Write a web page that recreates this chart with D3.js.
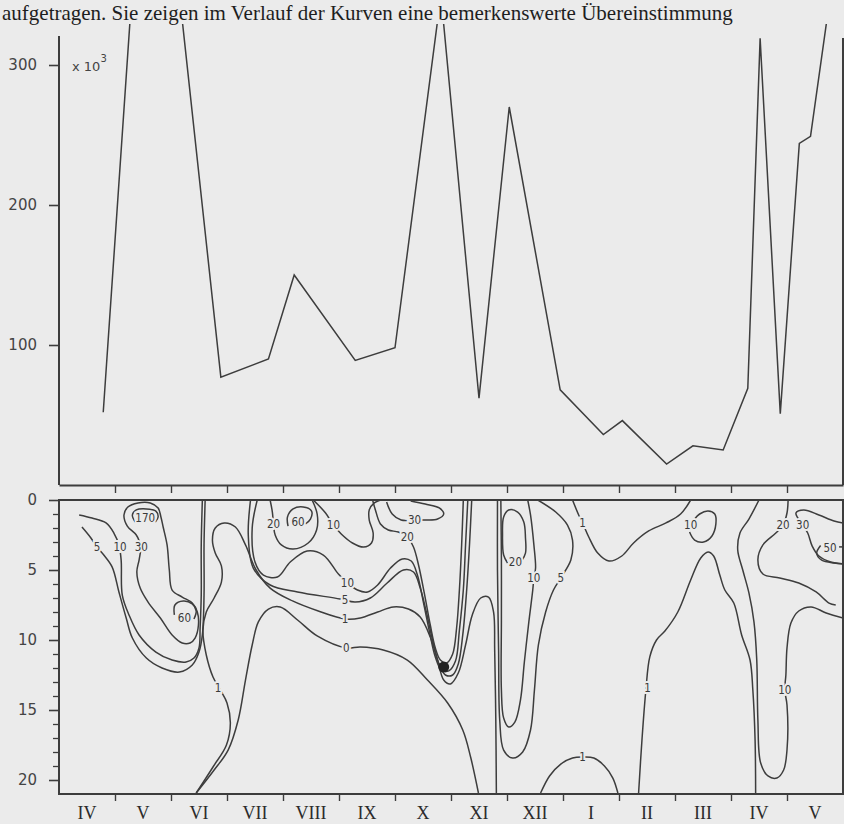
<!DOCTYPE html>
<html><head><meta charset="utf-8">
<script src="https://cdn.jsdelivr.net/npm/d3@7"></script>
<style>
html,body{margin:0;padding:0;background:#ebebeb;}
svg{display:block;}
</style></head><body>
<svg id="chart" width="844" height="824"></svg>
<script>
// ---------- DATA ----------
const headerText = "aufgetragen. Sie zeigen im Verlauf der Kurven eine bemerkenswerte Übereinstimmung";
// sampling dates as month index (0 = start of April 1996) and abundance (x10^3)
const sampleMonth = [0.79,1.63,2.89,3.74,4.20,5.29,6.00,6.82,7.50,8.04,8.95,9.72,10.06,10.85,11.32,11.86,12.30,12.52,12.88,13.22,13.42,13.95];
const abundance   = [52,543,77,90,150,89,98,350,62,270,68,36,46,15,28,25,69,319,51,244,249,400];
const topTicks = [100,200,300];
const monthLabels = ["IV","V","VI","VII","VIII","IX","X","XI","XII","I","II","III","IV","V"];
const depthMajor = [0,5,10,15,20];
const depthMinor = d3.range(1,21).filter(d=>d%5!==0);

// isolines: [month, depth]
const iso5_spring = [[0.41,1.93],[0.57,2.71],[0.68,3.36],[0.80,3.93],[0.95,4.79],[1.07,6.57],[1.20,8.43],[1.31,9.86],[1.56,11.29],[1.84,12.0],[2.15,12.29],[2.38,11.79],[2.50,10.86],[2.56,9.64],[2.59,6.79],[2.59,3.21],[2.61,0]];
const iso10_spring = [[0.36,1.07],[0.59,1.29],[0.84,1.64],[0.98,2.36],[1.07,3.21],[1.11,4.29],[1.13,6.79],[1.25,8.21],[1.43,9.64],[1.73,10.86],[2.02,11.43],[2.27,11.57],[2.41,11.29],[2.50,10.57],[2.52,9.14],[2.54,6.79],[2.54,3.21],[2.56,0]];
const iso30_spring = [[1.47,3.36],[1.38,2.5],[1.22,1.86],[1.16,1.07],[1.23,0.5],[1.41,0.21],[1.63,0.21],[1.77,0.57],[1.82,1.21],[1.86,1.93],[1.93,3.21],[1.97,5.0],[2.02,6.43],[2.20,6.93],[2.38,7.36],[2.47,8.0],[2.49,8.93],[2.43,9.86],[2.34,10.21],[2.20,10.21],[2.02,9.64],[1.81,8.43],[1.59,7.29],[1.45,6.29],[1.39,5.14],[1.43,4.29],[1.47,3.36]];
const iso170_spring = [[1.36,1.57],[1.31,1.07],[1.38,0.71],[1.56,0.64],[1.73,0.79],[1.77,1.21],[1.72,1.57]];
const iso60_spring = [[2.06,8.21],[2.07,7.5],[2.22,7.21],[2.38,7.43],[2.45,7.93],[2.41,8.5]];
const iso1_summer = [[2.45,20.93],[2.75,19.07],[2.99,17.5],[3.06,15.93],[3.00,14.5],[2.88,13.57],[2.75,12.64],[2.63,11.07],[2.57,9.29],[2.63,8.0],[2.77,7.0],[2.90,5.86],[2.90,4.71],[2.79,3.79],[2.74,2.86],[2.79,2.0],[2.95,1.64],[3.15,1.93],[3.33,3.21],[3.52,5.0],[3.77,6.29],[4.17,7.21],[4.63,7.93],[5.11,8.5],[5.38,8.43],[5.69,8.0],[5.97,7.64],[6.24,7.79],[6.45,8.36],[6.63,9.79],[6.76,11.43],[6.87,12.86],[6.99,13.14],[7.13,12.36],[7.26,10.36],[7.38,8.21],[7.53,7.0],[7.67,6.93],[7.76,8.0],[7.78,10.71],[7.80,15.71],[7.81,20.93]];
const iso5_summer = [[3.42,0],[3.38,2.5],[3.47,4.86],[3.77,6.07],[4.26,6.57],[5.02,7.07],[5.29,7.29],[5.56,7.0],[5.86,5.93],[6.15,5.0],[6.33,5.14],[6.45,6.29],[6.56,8.0],[6.67,10.0],[6.78,11.64],[6.90,12.5],[7.03,12.5],[7.13,11.71],[7.21,9.64],[7.28,6.43],[7.33,3.21],[7.37,0]];
const iso10_summer = [[3.54,0],[3.45,2.0],[3.50,4.43],[3.65,5.36],[3.90,5.5],[4.13,4.43],[4.43,3.64],[4.72,3.93],[4.99,5.29],[5.15,5.93],[5.33,6.43],[5.51,6.57],[5.69,6.07],[5.92,4.86],[6.13,4.21],[6.29,4.36],[6.40,5.36],[6.51,7.36],[6.62,9.5],[6.72,11.21],[6.83,12.14],[6.96,12.21],[7.08,11.5],[7.15,9.29],[7.22,6.43],[7.26,3.21],[7.30,0]];
const iso20_july = [[3.77,0],[3.81,0.86],[3.83,1.71],[3.86,2.5],[3.97,3.21],[4.18,3.5],[4.45,3.07],[4.60,2.14],[4.61,1.0],[4.52,0]];
const iso60_july = [[4.09,1.86],[4.08,1.21],[4.18,0.64],[4.36,0.5],[4.51,0.79],[4.49,1.36],[4.40,1.71]];
const iso10_aug = [[4.54,0],[4.76,0.93],[4.90,1.79],[5.04,2.43],[5.24,3.07],[5.44,3.36],[5.58,3.07],[5.61,2.36],[5.54,1.43],[5.54,0.71],[5.63,0.21],[5.74,0]];
const iso20_oct = [[5.60,0],[5.65,0.71],[5.74,1.71],[5.88,2.14],[6.06,2.29],[6.22,2.64],[6.33,3.36],[6.42,4.64],[6.53,6.79],[6.63,8.93],[6.72,10.57],[6.81,11.43],[6.92,11.64],[7.03,11.0],[7.10,9.14],[7.15,6.43],[7.19,3.21],[7.22,0]];
const iso30_oct = [[5.85,0.14],[5.95,1.0],[6.11,1.43],[6.35,1.43],[6.56,1.43],[6.76,1.36],[6.87,1.0],[6.79,0.57],[6.54,0.29],[6.28,0.07]];
const iso0 = [[2.45,20.93],[2.77,19.29],[3.02,17.86],[3.20,15.71],[3.33,12.86],[3.45,10.36],[3.56,8.71],[3.74,7.79],[3.95,7.64],[4.26,8.57],[4.61,9.71],[5.13,10.57],[5.38,10.5],[5.79,10.71],[6.22,11.43],[6.58,12.86],[6.94,14.5],[7.21,16.43],[7.35,18.36],[7.49,20.93]];
const iso5_winter = [[8.55,0],[8.87,0.86],[9.08,1.79],[9.17,2.86],[9.14,4.29],[8.96,5.57],[8.83,6.43],[8.69,8.0],[8.56,10.36],[8.49,13.57],[8.42,16.43],[8.28,18.0],[8.10,18.43],[7.94,17.86],[7.87,15.71],[7.85,10.71],[7.83,5.0],[7.83,0]];
const iso10_winter = [[8.37,0],[8.42,1.07],[8.48,3.21],[8.51,4.86],[8.48,5.57],[8.46,6.43],[8.39,8.71],[8.31,11.57],[8.24,14.29],[8.14,15.86],[8.03,16.21],[7.94,15.57],[7.90,13.57],[7.90,8.57],[7.90,4.29],[7.89,0]];
const iso20_nov = [[8.01,4.5],[7.94,3.93],[7.92,2.5],[7.94,1.21],[8.03,0.71],[8.19,0.86],[8.30,1.57],[8.33,2.71],[8.33,3.79],[8.26,4.36]];
const iso1_dec = [[9.17,0],[9.28,1.07],[9.35,1.64],[9.46,2.64],[9.62,3.79],[9.82,4.36],[10.05,4.0],[10.26,3.07],[10.53,2.21],[10.84,1.64],[11.10,1.0],[11.28,0]];
const iso10_mar = [[11.26,2.29],[11.35,2.86],[11.51,3.0],[11.66,2.57],[11.73,1.71],[11.71,1.0],[11.59,0.79],[11.44,1.0],[11.35,1.36]];
const iso1_spring97 = [[10.35,20.93],[10.41,17.14],[10.48,13.57],[10.55,11.21],[10.67,10.0],[10.82,9.36],[11.05,8.0],[11.28,5.71],[11.46,4.14],[11.59,3.71],[11.69,4.0],[11.80,5.36],[11.89,6.43],[12.05,7.36],[12.19,9.64],[12.34,11.43],[12.39,13.57],[12.43,17.14],[12.44,20.93]];
const iso1_jan = [[8.60,20.93],[8.76,19.71],[8.96,18.86],[9.17,18.43],[9.35,18.36],[9.55,18.43],[9.74,19.0],[9.89,19.86],[9.98,20.93]];
const iso10_apr = [[12.50,0],[12.32,1.36],[12.16,2.36],[12.12,3.57],[12.21,5.0],[12.32,6.64],[12.41,8.71],[12.46,11.43],[12.48,15.71],[12.53,18.79],[12.66,19.71],[12.82,19.86],[12.94,19.29],[13.0,17.86],[13.0,14.64],[12.96,13.57],[12.98,12.5],[13.0,10.57],[13.07,8.79],[13.21,7.93],[13.43,7.64],[13.70,8.07],[14.0,8.43]];
const iso20_apr = [[13.02,0],[13.0,0.93],[12.93,1.79],[12.80,2.36],[12.57,3.21],[12.48,4.29],[12.57,5.29],[12.87,5.57],[13.21,5.93],[13.52,6.57],[13.75,7.36],[13.87,7.5]];
const iso30_may = [[14.0,1.64],[13.84,1.5],[13.57,1.07],[13.30,0.71],[13.16,0.93],[13.28,1.79],[13.37,2.36],[13.45,3.29],[13.57,4.0],[13.78,4.43],[14.0,4.57]];
const iso50_may = [[13.60,3.25],[13.53,3.8],[13.62,4.3],[13.85,4.5],[14.0,4.55]];
const iso50_may_tail = [[13.93,3.35],[14.0,3.35]];

const isolines = [iso5_spring, iso10_spring, iso30_spring, iso170_spring, iso60_spring, iso1_summer, iso5_summer, iso10_summer,
  iso20_july, iso60_july, iso10_aug, iso20_oct, iso30_oct, iso0, iso5_winter, iso10_winter, iso20_nov, iso1_dec, iso10_mar,
  iso1_spring97, iso1_jan, iso10_apr, iso20_apr, iso30_may, iso50_may, iso50_may_tail];

const isoLabelText  = ["5","10","30","170","60","1","20","60","10","10","5","1","0","30","20","20","10","5","1","1","10","1","20","30","50","10"];
const isoLabelMonth = [0.68,1.09,1.47,1.54,2.24,2.84,3.83,4.27,4.90,5.15,5.11,5.11,5.13,6.35,6.22,8.15,8.48,8.96,9.35,9.35,11.28,10.51,12.93,13.28,13.77,12.96];
const isoLabelDepth = [3.36,3.36,3.36,1.29,8.43,13.43,1.71,1.57,1.79,5.93,7.14,8.5,10.57,1.43,2.64,4.43,5.57,5.57,1.64,18.36,1.79,13.43,1.79,1.79,3.43,13.57];
const deepDot = [6.87, 11.93];

// ---------- DRAW ----------
const bg = "#ebebeb", ink = "#3d3d3d";
const svg = d3.select("#chart");
const x = d3.scaleLinear().domain([0,14]).range([59,843]);
const yTop = d3.scaleLinear().domain([0,300]).range([485,65]);
const yDepth = d3.scaleLinear().domain([0,21]).range([500,794]);

svg.append("rect").attr("width",844).attr("height",824).attr("fill",bg);

// book text line above the figure
svg.append("text").attr("x",2).attr("y",20)
  .attr("font-family","Liberation Serif").attr("font-size",21).attr("fill","#1e1e1e")
  .text(headerText);

const defs = svg.append("defs");
defs.append("clipPath").attr("id","clipTop").append("rect").attr("x",59).attr("y",24).attr("width",784).attr("height",461);
defs.append("clipPath").attr("id","clipBot").append("rect").attr("x",59).attr("y",500).attr("width",784).attr("height",294);

// ---- top panel ----
const series = sampleMonth.map((m,i)=>[m, abundance[i]]);
svg.append("path").datum(series)
  .attr("clip-path","url(#clipTop)")
  .attr("fill","none").attr("stroke",ink).attr("stroke-width",1.5).attr("stroke-linejoin","miter")
  .attr("d", d3.line().x(d=>x(d[0])).y(d=>yTop(d[1])));

const axTop = svg.append("g").attr("transform","translate(59,0)")
  .call(d3.axisLeft(yTop).tickValues(topTicks).tickSize(10).tickPadding(12).tickSizeOuter(0));
axTop.select(".domain").remove();
axTop.selectAll(".tick line").attr("stroke",ink).attr("stroke-width",1.6);
axTop.selectAll(".tick text").attr("font-family","DejaVu Sans").attr("font-size",15).attr("fill","#444");

svg.append("line").attr("x1",59).attr("x2",59).attr("y1",36).attr("y2",485).attr("stroke",ink).attr("stroke-width",2);
svg.append("line").attr("x1",843).attr("x2",843).attr("y1",38).attr("y2",485).attr("stroke",ink).attr("stroke-width",2);

const unit = svg.append("text").attr("x",72).attr("y",71)
  .attr("font-family","DejaVu Sans").attr("font-size",13).attr("fill","#444");
unit.append("tspan").text("x 10");
unit.append("tspan").attr("dy",-9).attr("font-size",10).text("3");

const axMid = svg.append("g").attr("transform","translate(0,485)")
  .call(d3.axisBottom(x).tickValues(d3.range(1,14)).tickSize(8).tickSizeOuter(0).tickFormat(""));
axMid.select(".domain").attr("stroke",ink).attr("stroke-width",2);
axMid.selectAll(".tick line").attr("stroke",ink).attr("stroke-width",1.4);

// ---- bottom panel ----
const gBot = svg.append("g").attr("clip-path","url(#clipBot)");
const lineIso = d3.line().x(d=>x(d[0])).y(d=>yDepth(d[1])).curve(d3.curveCatmullRom.alpha(0.5));
gBot.selectAll("path.iso").data(isolines).join("path").attr("class","iso")
  .attr("fill","none").attr("stroke",ink).attr("stroke-width",1.5).attr("d",lineIso);

gBot.append("circle").attr("cx",x(deepDot[0])).attr("cy",yDepth(deepDot[1])).attr("r",5.5).attr("fill","#222");

svg.append("g").selectAll("text").data(isoLabelText).join("text")
  .attr("x",(d,i)=>x(isoLabelMonth[i])).attr("y",(d,i)=>yDepth(isoLabelDepth[i]))
  .attr("text-anchor","middle").attr("dominant-baseline","central")
  .attr("font-family","DejaVu Sans Condensed, DejaVu Sans").attr("font-size",11.5).attr("fill","#3a3a3a")
  .attr("stroke",bg).attr("stroke-width",4).attr("paint-order","stroke")
  .text(d=>d);

svg.append("rect").attr("x",59).attr("y",500).attr("width",784).attr("height",294)
  .attr("fill","none").attr("stroke",ink).attr("stroke-width",2);

const axMinor = svg.append("g").attr("transform","translate(59,0)")
  .call(d3.axisLeft(yDepth).tickValues(depthMinor).tickSize(6).tickFormat("").tickSizeOuter(0));
axMinor.select(".domain").remove();
axMinor.selectAll(".tick line").attr("stroke",ink).attr("stroke-width",1.3);

const axDepth = svg.append("g").attr("transform","translate(59,0)")
  .call(d3.axisLeft(yDepth).tickValues(depthMajor).tickSize(10).tickPadding(12).tickSizeOuter(0));
axDepth.select(".domain").remove();
axDepth.selectAll(".tick line").attr("stroke",ink).attr("stroke-width",1.6);
axDepth.selectAll(".tick text").attr("font-family","DejaVu Sans").attr("font-size",15).attr("fill","#444");

const axBot = svg.append("g").attr("transform","translate(0,794)")
  .call(d3.axisBottom(x).tickValues(d3.range(1,14)).tickSize(7).tickSizeOuter(0).tickFormat(""));
axBot.select(".domain").remove();
axBot.selectAll(".tick line").attr("stroke",ink).attr("stroke-width",1.4);

svg.append("g").selectAll("text").data(monthLabels).join("text")
  .attr("x",(d,i)=>x(i+0.5)).attr("y",819)
  .attr("text-anchor","middle").attr("font-family","Liberation Serif").attr("font-size",18).attr("fill","#2a2a2a")
  .text(d=>d);
</script>
</body></html>
